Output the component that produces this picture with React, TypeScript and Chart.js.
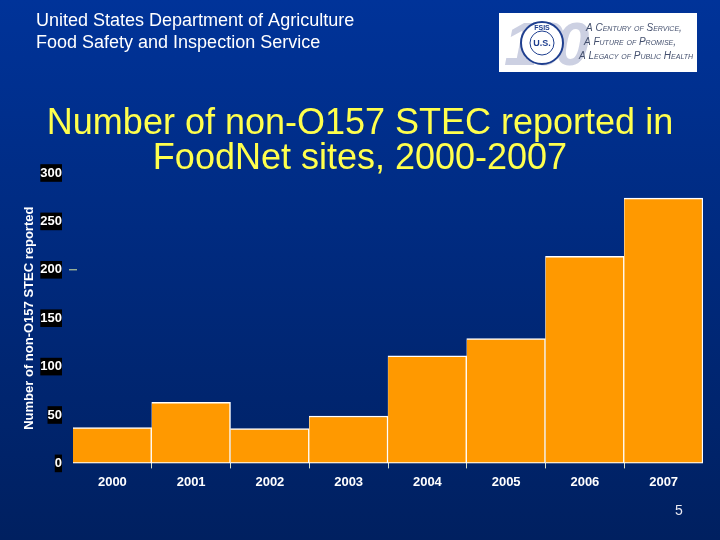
import { useEffect, useRef } from "react";
import { Chart, registerables } from "chart.js";

Chart.register(...registerables);

const years = ["2000", "2001", "2002", "2003", "2004", "2005", "2006", "2007"];
const reported = [37, 63, 36, 49, 111, 129, 214, 274];
const headerLines = ["United States Department of Agriculture", "Food Safety and Inspection Service"];
const titleLines = ["Number of non-O157 STEC reported in", "FoodNet sites, 2000-2007"];
const logoLines = ["A Century of Service,", "A Future of Promise,", "A Legacy of Public Health"];
const FONT = '"Liberation Sans", Arial, sans-serif';

// slide furniture: gradient, header, logo, title, page number
const slidePlugin = {
  id: "slide",
  beforeDraw(chart: any) {
    const { ctx, width, height } = chart;
    const bg = ctx.createLinearGradient(0, 0, 0, height);
    bg.addColorStop(0, "#003399");
    bg.addColorStop(1, "#002060");
    ctx.save();
    ctx.fillStyle = bg;
    ctx.fillRect(0, 0, width, height);

    ctx.fillStyle = "#ffffff";
    ctx.font = `18px ${FONT}`;
    ctx.textBaseline = "alphabetic";
    ctx.fillText(headerLines[0], 36, 26);
    ctx.fillText(headerLines[1], 36, 48);

    // logo
    ctx.fillRect(499, 13, 198, 59);
    ctx.fillStyle = "#ccd0e2";
    ctx.font = `italic bold 62px ${FONT}`;
    ctx.letterSpacing = "-9px";
    ctx.fillText("100", 504, 65);
    ctx.letterSpacing = "0px";
    ctx.fillStyle = "#ffffff";
    ctx.beginPath();
    ctx.arc(542, 43, 21, 0, Math.PI * 2);
    ctx.fill();
    ctx.strokeStyle = "#1f3f8f";
    ctx.lineWidth = 2;
    ctx.stroke();
    ctx.lineWidth = 1;
    ctx.beginPath();
    ctx.arc(542, 43, 12, 0, Math.PI * 2);
    ctx.stroke();
    ctx.fillStyle = "#1f3f8f";
    ctx.textAlign = "center";
    ctx.font = `bold 9px ${FONT}`;
    ctx.fillText("U.S.", 542, 46);
    ctx.font = `bold 7px ${FONT}`;
    ctx.fillText("FSIS", 542, 30);
    ctx.textAlign = "left";
    ctx.fillStyle = "#44506e";
    ctx.font = `italic small-caps 10px ${FONT}`;
    ctx.fillText(logoLines[0], 586, 31);
    ctx.fillText(logoLines[1], 584, 45);
    ctx.fillText(logoLines[2], 579, 59);
    ctx.restore();
  },
  afterDraw(chart: any) {
    const { ctx, scales } = chart;
    ctx.save();
    ctx.textAlign = "center";
    ctx.fillStyle = "#ffff4d";
    ctx.font = `36px ${FONT}`;
    ctx.fillText(titleLines[0], 360, 134);
    ctx.fillText(titleLines[1], 360, 169);

    ctx.fillStyle = "#e8e8f0";
    ctx.font = `14px ${FONT}`;
    ctx.fillText("5", 679, 515);

    // stray tick beside the 200 label
    const y200 = scales.y.getPixelForValue(200);
    ctx.strokeStyle = "#d8e8a0";
    ctx.lineWidth = 1;
    ctx.beginPath();
    ctx.moveTo(69, y200);
    ctx.lineTo(77, y200);
    ctx.stroke();
    ctx.restore();
  },
};

export default function App() {
  const canvasRef = useRef<HTMLCanvasElement | null>(null);

  useEffect(() => {
    if (!canvasRef.current) return;
    const chart = new Chart(canvasRef.current, {
      type: "bar",
      data: {
        labels: years,
        datasets: [
          {
            data: reported,
            backgroundColor: "#ff9900",
            borderColor: "#ffffff",
            borderWidth: (c: any) => ({ top: 1.5, right: 1.5, bottom: 1.5, left: c.dataIndex === 0 ? 0 : 0.5 }),
            borderSkipped: false,
            barPercentage: 1,
            categoryPercentage: 1,
          },
        ],
      },
      options: {
        animation: false,
        responsive: false,
        devicePixelRatio: 1,
        layout: { padding: { left: 22, right: 17, top: 173, bottom: 44 } },
        plugins: { legend: { display: false }, tooltip: { enabled: false } },
        scales: {
          x: {
            offset: true,
            border: { display: false },
            grid: {
              offset: true,
              drawOnChartArea: false,
              tickLength: 5,
              tickColor: (c: any) => (c.index >= 1 ? "#d8e0c8" : "transparent"),
            },
            ticks: { color: "#ffffff", font: { family: FONT, size: 13, weight: "bold" }, padding: 6, maxRotation: 0 },
          },
          y: {
            min: 0,
            max: 300,
            border: { display: false },
            grid: { display: false },
            afterFit: (s: any) => {
              s.width = 51;
            },
            title: {
              display: true,
              text: "Number of non-O157 STEC reported",
              color: "#ffffff",
              font: { family: FONT, size: 13, weight: "bold" },
              padding: 0,
            },
            ticks: {
              stepSize: 50,
              color: "#ffffff",
              font: { family: FONT, size: 13, weight: "bold" },
              padding: 3,
              showLabelBackdrop: true,
              backdropColor: "#000000",
              backdropPadding: { x: 0, y: 1 },
            },
          },
        },
      },
      plugins: [slidePlugin],
    } as any);
    return () => chart.destroy();
  }, []);

  return (
    <div style={{ position: "fixed", left: 0, top: 0, width: 720, height: 540 }}>
      <canvas ref={canvasRef} width={720} height={540} style={{ display: "block" }} />
    </div>
  );
}
